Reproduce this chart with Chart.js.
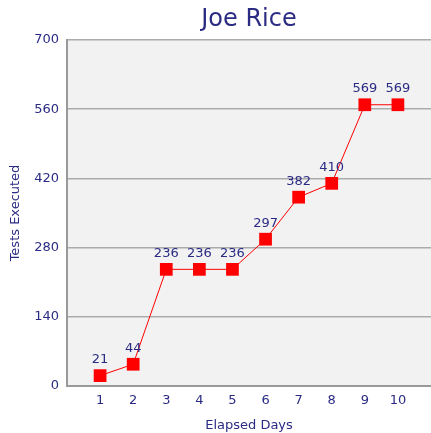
<!DOCTYPE html>
<html>
<head>
    <title>Joe Rice</title>
    <script src="https://cdn.jsdelivr.net/npm/chart.js"></script>
    <style>
        body { margin: 0; background: #fff; }
        canvas { display: block; }
    </style>
</head>
<body>
    <canvas id="riceChart" width="431" height="433"></canvas>

    <script>
        const days = [1, 2, 3, 4, 5, 6, 7, 8, 9, 10];
        const testsExecuted = [21, 44, 236, 236, 236, 297, 382, 410, 569, 569];
        const yTicks = [0, 140, 280, 420, 560, 700];

        const navy = '#2b2b84';

        // grey plot background
        const plotBackground = {
            id: 'plotBackground',
            beforeDraw(chart) {
                const { ctx, chartArea: a } = chart;
                ctx.save();
                ctx.fillStyle = '#f2f2f2';
                ctx.fillRect(a.left, a.top, a.right - a.left, a.bottom - a.top);
                ctx.restore();
            }
        };

        // value above each marker
        const valueLabels = {
            id: 'valueLabels',
            afterDatasetsDraw(chart) {
                const ctx = chart.ctx;
                const meta = chart.getDatasetMeta(0);
                ctx.save();
                ctx.fillStyle = navy;
                ctx.font = '13px "DejaVu Sans"';
                ctx.textAlign = 'center';
                ctx.textBaseline = 'middle';
                meta.data.forEach((pt, i) => {
                    ctx.fillText(String(testsExecuted[i]), pt.x, pt.y - 16);
                });
                ctx.restore();
            }
        };

        const ctx = document.getElementById('riceChart').getContext('2d');
        new Chart(ctx, {
            type: 'line',
            data: {
                datasets: [{
                    data: days.map((d, i) => ({ x: d, y: testsExecuted[i] })),
                    borderColor: '#ff0000',
                    borderWidth: 1,
                    backgroundColor: '#ff0000',
                    pointStyle: 'rect',
                    pointRadius: 9,
                    pointBorderWidth: 0,
                    tension: 0
                }]
            },
            options: {
                responsive: false,
                animation: false,
                layout: { padding: 0, autoPadding: false },
                plugins: {
                    legend: { display: false },
                    tooltip: { enabled: false },
                    title: {
                        display: true,
                        fullSize: false,
                        text: 'Joe Rice',
                        color: navy,
                        font: { family: 'DejaVu Sans', size: 24, weight: 'normal' },
                        padding: { top: 5, bottom: 6.2 }
                    }
                },
                scales: {
                    x: {
                        type: 'linear',
                        min: 0,
                        max: 11,
                        afterFit(scale) {
                            scale.height = 47;
                            scale.paddingLeft = 0;
                            scale.paddingRight = 0;
                        },
                        ticks: {
                            stepSize: 1,
                            color: navy,
                            font: { family: 'DejaVu Sans', size: 13 },
                            padding: 7,
                            maxRotation: 0,
                            callback: v => (v >= 1 && v <= 10) ? String(v) : ''
                        },
                        grid: { display: false, drawTicks: false },
                        border: { display: true, color: '#9a9a9a', width: 2 },
                        title: {
                            display: true,
                            text: 'Elapsed Days',
                            color: navy,
                            font: { family: 'DejaVu Sans', size: 13 },
                            padding: { top: 2, bottom: 0 }
                        }
                    },
                    y: {
                        min: 0,
                        max: 700,
                        afterFit(scale) {
                            scale.width = 67;
                            scale.paddingTop = 0;
                            scale.paddingBottom = 0;
                        },
                        afterBuildTicks(scale) { scale.ticks = yTicks.map(v => ({ value: v })); },
                        ticks: {
                            color: navy,
                            font: { family: 'DejaVu Sans', size: 13 },
                            padding: 8
                        },
                        grid: { color: '#ababab', lineWidth: 1.5, drawTicks: false },
                        border: { display: true, color: '#9a9a9a', width: 2 },
                        title: {
                            display: true,
                            text: 'Tests Executed',
                            color: navy,
                            font: { family: 'DejaVu Sans', size: 13 },
                            padding: { top: 8, bottom: 0 }
                        }
                    }
                }
            },
            plugins: [plotBackground, valueLabels]
        });
    </script>
</body>
</html>
